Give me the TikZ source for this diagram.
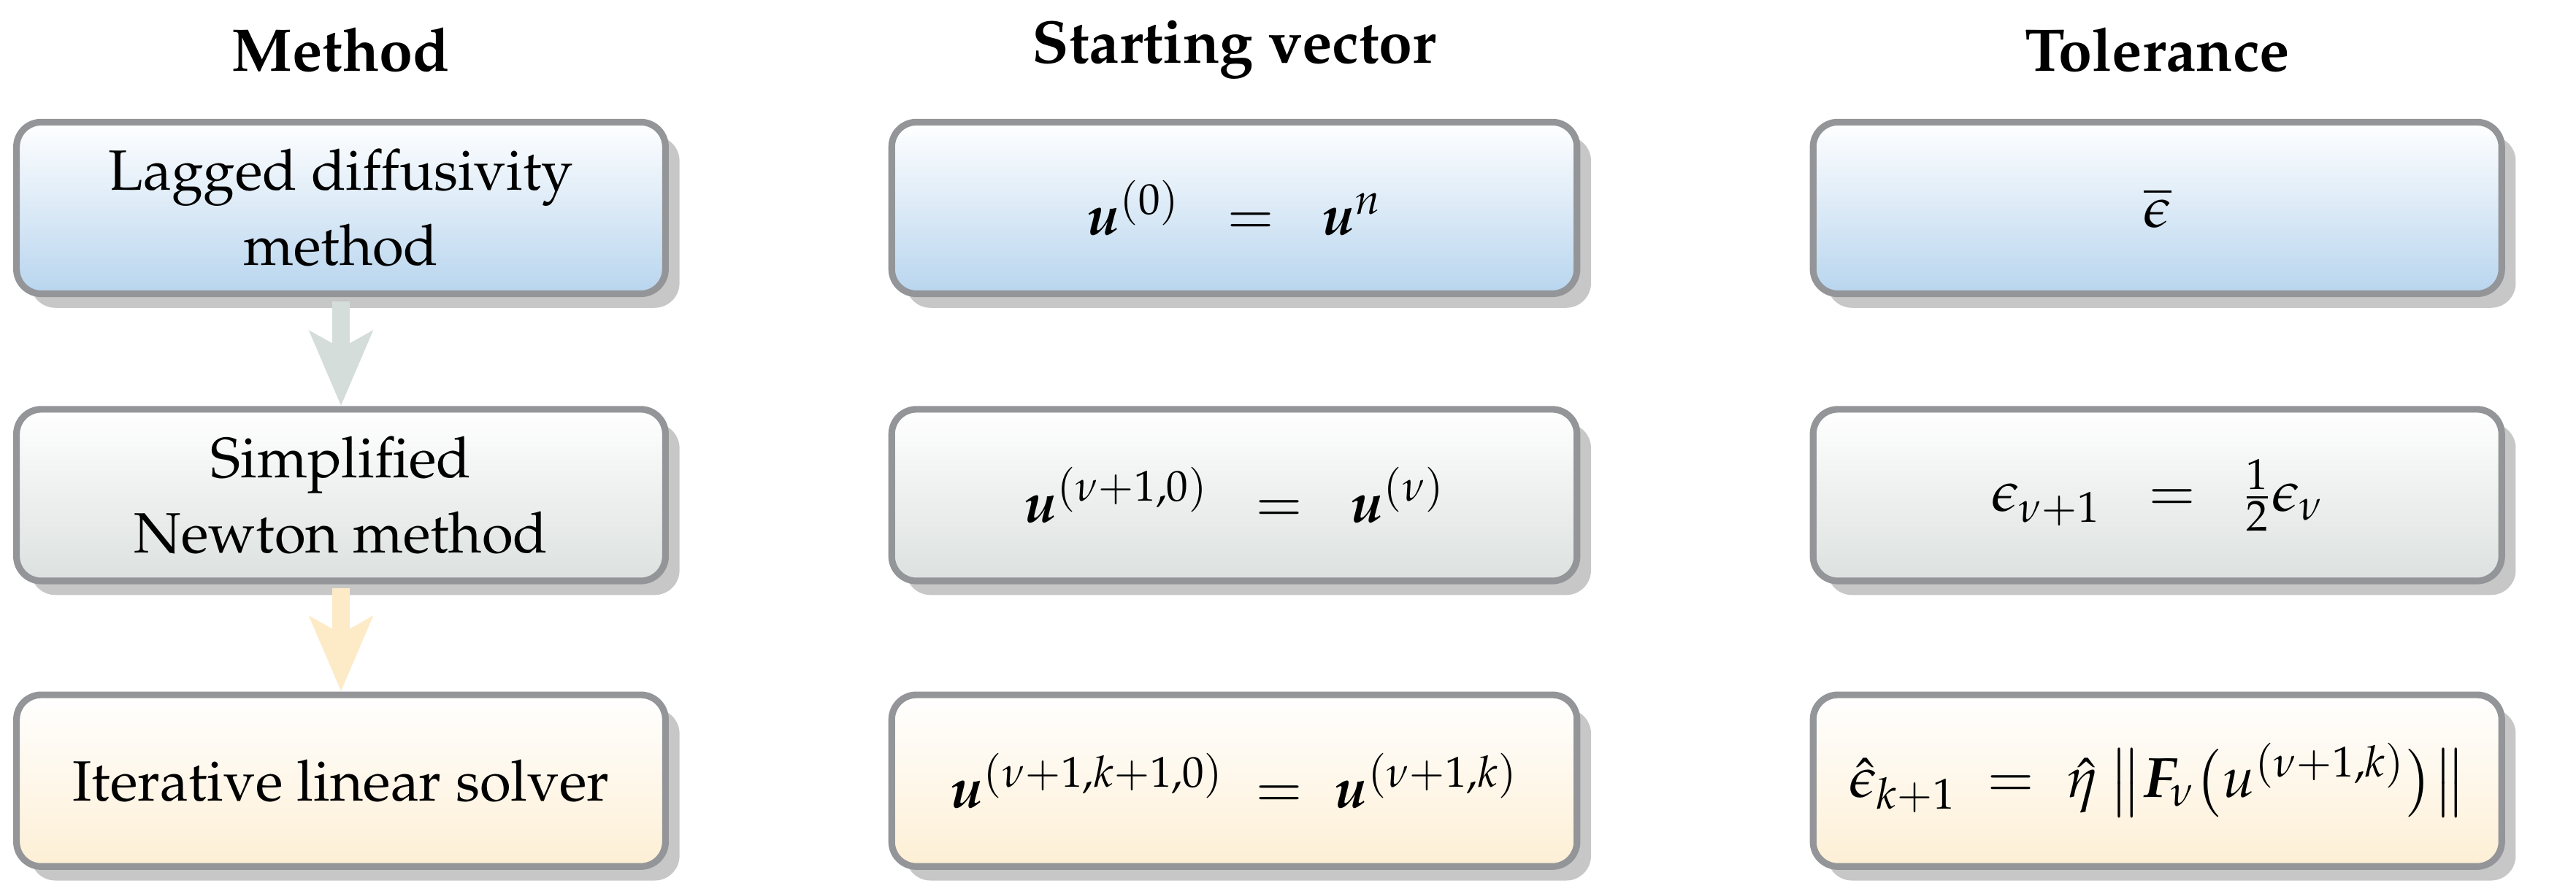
\documentclass[tikz,border=0pt]{standalone}
\usepackage[T1]{fontenc}
\usepackage{mathpazo}
\usepackage{amsmath,bm}
\usetikzlibrary{shadows,arrows.meta}
\definecolor{bord}{HTML}{939598}
\definecolor{bluebot}{HTML}{B8D5EE}
\definecolor{graybot}{HTML}{DCE1DF}
\definecolor{orbot}{HTML}{FDEFD5}
\definecolor{arrA}{HTML}{D5DDDA}
\definecolor{arrB}{HTML}{FDEBC8}
\tikzset{
  box/.style={draw=bord, line width=2.3pt, rounded corners=0.3cm, minimum height=2.08cm,
    align=center, font=\fontsize{19.6}{26}\selectfont,
    drop shadow={shadow xshift=0.17cm, shadow yshift=-0.17cm, fill=black!22, opacity=1}},
  c1/.style={box, minimum width=7.86cm},
  c2/.style={box, minimum width=8.3cm},
  c3/.style={box, minimum width=8.34cm},
  r1/.style={top color=white, bottom color=bluebot},
  r2/.style={top color=white, bottom color=graybot},
  r3/.style={top color=white, bottom color=orbot},
  head/.style={font=\fontsize{20.8}{25}\selectfont\bfseries},
  flow/.style={line width=0.22cm, -{Stealth[width=0.75cm,length=0.9cm,inset=0.2cm]}, shorten <=0.05cm}
}
\begin{document}
\begin{tikzpicture}
\useasboundingbox (0,0) rectangle (31.2,-10.83);
\node[head] (h1) at (4.13,-0.6) {Method};
\node[head] (h2) at (14.95,-0.6) {Starting vector};
\node[head] (h3) at (26.13,-0.6) {Tolerance};

\node[c1,r1] (a1) at (4.13,-2.52) {Lagged diffusivity\\method};
\node[c1,r2] (a2) at (4.13,-6.0) {Simplified\\Newton method};
\node[c1,r3] (a3) at (4.13,-9.46) {Iterative linear solver};

\node[c2,r1] (b1) at (14.95,-2.52) {$\bm{u}^{(0)} \;\;=\;\; \bm{u}^{n}$};
\node[c2,r2] (b2) at (14.95,-6.0) {$\bm{u}^{(\nu+1,0)} \;\;=\;\; \bm{u}^{(\nu)}$};
\node[c2,r3] (b3) at (14.95,-9.46) {$\bm{u}^{(\nu+1,k+1,0)} \;=\; \bm{u}^{(\nu+1,k)}$};

\node[c3,r1] (t1) at (26.13,-2.52) {$\overline{\epsilon}$};
\node[c3,r2] (t2) at (26.13,-6.0) {$\epsilon_{\nu+1} \;\;=\;\; \tfrac{1}{2}\epsilon_{\nu}$};
\node[c3,r3] (t3) at (26.13,-9.46) {$\hat{\epsilon}_{k+1} \;=\; \hat{\eta}\,\big\|\bm{F}_{\nu}\big(u^{(\nu+1,k)}\big)\big\|$};

\draw[flow, arrA] (a1.south) -- (a2.north);
\draw[flow, arrB] (a2.south) -- (a3.north);
\end{tikzpicture}
\end{document}
